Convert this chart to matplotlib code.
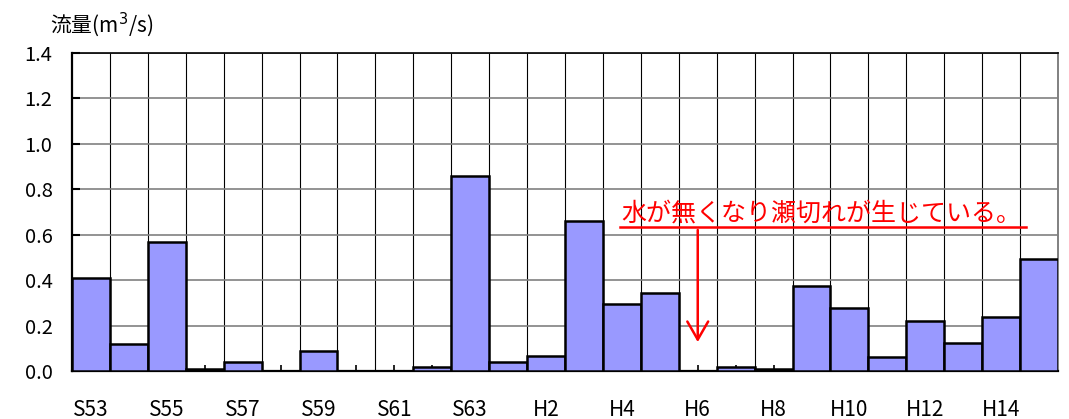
import matplotlib
matplotlib.use('Agg')

import matplotlib.pyplot as plt

plt.rcParams['font.family'] = ['Noto Sans CJK JP', 'DejaVu Sans']

# Data (flow in m3/s per year)
years = ['S53', 'S54', 'S55', 'S56', 'S57', 'S58', 'S59', 'S60', 'S61', 'S62', 'S63',
         'H1', 'H2', 'H3', 'H4', 'H5', 'H6', 'H7', 'H8', 'H9', 'H10',
         'H11', 'H12', 'H13', 'H14', 'H15']
flow = [0.41, 0.12, 0.57, 0.01, 0.04, 0.0, 0.09, 0.0, 0.0, 0.016, 0.86,
        0.04, 0.065, 0.66, 0.295, 0.345, 0.0, 0.018, 0.008, 0.373, 0.279,
        0.063, 0.22, 0.125, 0.238, 0.493]
tick_labels = [y if i % 2 == 0 else '' for i, y in enumerate(years)]

note = '水が無くなり瀬切れが生じている。'
note_year = 'H6'

fig = plt.figure(figsize=(10.69, 4.19), dpi=100)
ax = fig.add_axes([0.0674, 0.1146, 0.9223, 0.7589])

x = list(range(len(years)))
ax.bar(x, flow, width=1.0, color='#9999FF', edgecolor='black', linewidth=1.8, zorder=3)

ax.set_xlim(-0.5, len(years) - 0.5)
ax.set_ylim(0, 1.4)
ax.set_yticks([0.0, 0.2, 0.4, 0.6, 0.8, 1.0, 1.2, 1.4])
ax.set_yticklabels(['0.0', '0.2', '0.4', '0.6', '0.8', '1.0', '1.2', '1.4'])
ax.set_xticks(x)
ax.set_xticklabels(tick_labels)
ax.set_xticks([i - 0.5 for i in range(1, len(years))], minor=True)

ax.tick_params(axis='x', which='major', direction='in', length=4, width=1.2, pad=20, labelsize=15)
ax.tick_params(axis='x', which='minor', length=0)
ax.tick_params(axis='y', direction='in', length=6, width=1.5, pad=14, labelsize=14.5)

ax.set_axisbelow(True)
ax.yaxis.grid(True, color='#808080', linewidth=1.2)
ax.xaxis.grid(True, which='minor', color='black', linewidth=0.8)

for side in ['left', 'bottom']:
    ax.spines[side].set_linewidth(1.6)
    ax.spines[side].set_color('black')
ax.spines['top'].set_linewidth(1.2)
ax.spines['right'].set_linewidth(1.4)
ax.spines['right'].set_color('#808080')

fig.text(0.047, 0.94, '流量(m$^3$/s)', fontsize=15, va='center', ha='left')

# annotation
xi = years.index(note_year)
ax.text(13.98, 0.692, note, color='red', fontsize=18, va='center', ha='left', zorder=5)
ax.plot([13.95, 24.66], [0.633, 0.633], color='red', linewidth=1.8, zorder=5)
ax.annotate('', xy=(xi, 0.115), xytext=(xi, 0.633),
            arrowprops=dict(arrowstyle='->,head_length=1.3,head_width=0.75',
                            color='red', linewidth=1.8), zorder=5)

plt.savefig('out.png', dpi=100)
